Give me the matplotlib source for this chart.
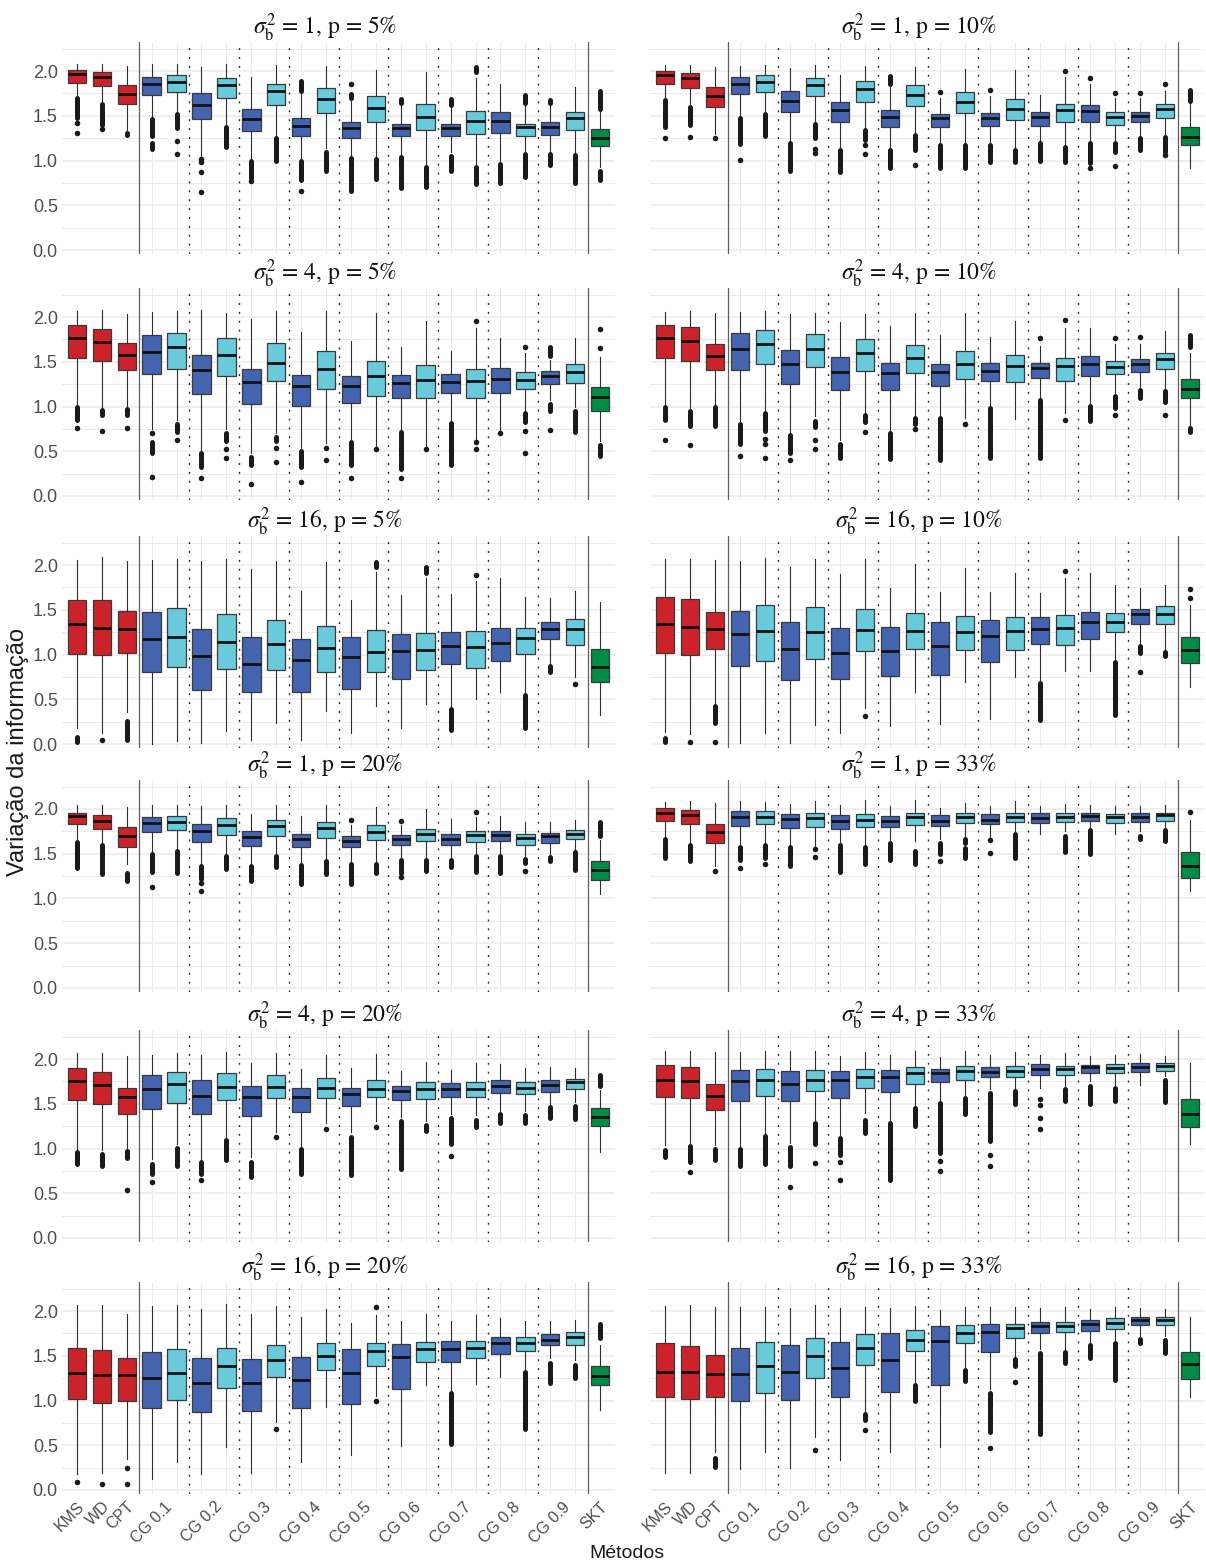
import numpy as np
import matplotlib.pyplot as plt

plt.rcParams['mathtext.fontset'] = 'stix'
plt.rcParams['font.family'] = ['Liberation Sans', 'DejaVu Sans']

# x categories: three reference methods, nine CG levels (two variants each), SKT
TICK_LABELS = ['KMS', 'WD', 'CPT'] + ['CG 0.%d' % k for k in range(1, 10)] + ['SKT']
GROUP = ['ref'] * 3 + ['cg_a', 'cg_b'] * 9 + ['skt']
COLORS = {'ref': '#CC2229', 'cg_a': '#4464AF', 'cg_b': '#68CADB', 'skt': '#008C45'}

# panel order: row by row, left then right
SIGMA2 = [1, 1, 4, 4, 16, 16, 1, 1, 4, 4, 16, 16]
PCT = [5, 10, 5, 10, 5, 10, 20, 33, 20, 33, 20, 33]

WHIS_LO = [
    [1.70, 1.66, 1.34, 1.47, 1.53, 1.05, 1.38, 1.00, 1.27, 1.00, 1.14, 1.04, 1.04, 1.06, 0.95, 1.10, 0.95, 0.99, 1.10, 1.10, 1.08, 0.93],
    [1.69, 1.62, 1.30, 1.49, 1.53, 1.23, 1.43, 1.15, 1.36, 1.14, 1.30, 1.19, 1.19, 1.19, 1.14, 1.21, 1.17, 1.21, 1.23, 1.27, 1.28, 0.92],
    [1.03, 1.00, 1.01, 0.75, 0.85, 0.51, 0.75, 0.48, 0.70, 0.53, 0.59, 0.64, 0.55, 0.75, 0.55, 0.85, 0.62, 0.72, 0.94, 1.07, 1.00, 0.62],
    [1.02, 0.98, 1.02, 0.83, 0.96, 0.70, 0.89, 0.63, 0.93, 0.72, 0.89, 0.89, 0.87, 1.00, 0.86, 1.09, 0.93, 1.04, 1.15, 1.21, 1.19, 0.79],
    [0.18, 0.12, 0.36, 0.00, 0.03, 0.01, 0.14, 0.05, 0.23, 0.05, 0.37, 0.12, 0.42, 0.18, 0.45, 0.42, 0.50, 0.58, 0.58, 0.90, 0.75, 0.32],
    [0.13, 0.11, 0.45, 0.01, 0.12, 0.01, 0.21, 0.12, 0.40, 0.20, 0.58, 0.22, 0.69, 0.28, 0.75, 0.72, 0.82, 0.82, 0.94, 1.11, 1.05, 0.64],
    [1.65, 1.61, 1.39, 1.52, 1.55, 1.38, 1.49, 1.38, 1.49, 1.39, 1.44, 1.41, 1.41, 1.45, 1.45, 1.45, 1.49, 1.50, 1.45, 1.49, 1.54, 1.05],
    [1.69, 1.62, 1.36, 1.61, 1.62, 1.59, 1.59, 1.63, 1.60, 1.65, 1.64, 1.67, 1.69, 1.69, 1.75, 1.72, 1.75, 1.79, 1.72, 1.75, 1.80, 1.08],
    [1.00, 0.98, 1.01, 0.88, 1.05, 0.88, 1.13, 0.90, 1.18, 1.03, 1.28, 1.18, 1.31, 1.35, 1.31, 1.39, 1.37, 1.42, 1.42, 1.50, 1.52, 0.96],
    [1.04, 1.06, 1.04, 1.02, 1.17, 1.06, 1.32, 1.15, 1.40, 1.30, 1.49, 1.53, 1.58, 1.66, 1.66, 1.68, 1.70, 1.75, 1.71, 1.71, 1.81, 1.05],
    [0.18, 0.19, 0.35, 0.12, 0.31, 0.18, 0.48, 0.19, 0.76, 0.31, 0.93, 0.39, 1.05, 0.49, 1.17, 1.12, 1.18, 1.26, 1.35, 1.47, 1.45, 0.89],
    [0.19, 0.19, 0.42, 0.23, 0.43, 0.25, 0.59, 0.33, 0.88, 0.43, 1.20, 0.48, 1.37, 1.13, 1.48, 1.57, 1.57, 1.65, 1.68, 1.72, 1.72, 1.04],
]
Q1 = [
    [1.87, 1.83, 1.63, 1.73, 1.77, 1.46, 1.70, 1.33, 1.62, 1.27, 1.53, 1.25, 1.43, 1.27, 1.34, 1.27, 1.30, 1.31, 1.27, 1.28, 1.34, 1.16],
    [1.86, 1.81, 1.60, 1.74, 1.77, 1.54, 1.72, 1.43, 1.65, 1.37, 1.61, 1.37, 1.53, 1.39, 1.45, 1.39, 1.43, 1.43, 1.40, 1.43, 1.48, 1.17],
    [1.54, 1.51, 1.41, 1.36, 1.42, 1.14, 1.34, 1.03, 1.28, 1.01, 1.20, 1.04, 1.12, 1.10, 1.10, 1.15, 1.09, 1.15, 1.19, 1.25, 1.26, 0.95],
    [1.54, 1.51, 1.41, 1.41, 1.47, 1.25, 1.44, 1.18, 1.40, 1.18, 1.37, 1.23, 1.31, 1.29, 1.27, 1.32, 1.29, 1.34, 1.36, 1.39, 1.42, 1.09],
    [1.01, 0.99, 1.02, 0.80, 0.86, 0.60, 0.84, 0.58, 0.83, 0.58, 0.80, 0.62, 0.80, 0.73, 0.83, 0.89, 0.85, 0.93, 1.01, 1.17, 1.11, 0.69],
    [1.02, 1.00, 1.06, 0.87, 0.93, 0.71, 0.95, 0.73, 1.04, 0.76, 1.06, 0.77, 1.05, 0.92, 1.05, 1.12, 1.11, 1.17, 1.25, 1.34, 1.34, 0.91],
    [1.83, 1.78, 1.58, 1.74, 1.76, 1.63, 1.71, 1.59, 1.70, 1.58, 1.68, 1.57, 1.65, 1.60, 1.64, 1.60, 1.63, 1.64, 1.60, 1.62, 1.66, 1.21],
    [1.87, 1.83, 1.62, 1.81, 1.83, 1.79, 1.80, 1.78, 1.80, 1.80, 1.82, 1.81, 1.84, 1.83, 1.85, 1.84, 1.85, 1.87, 1.84, 1.85, 1.87, 1.23],
    [1.54, 1.50, 1.39, 1.44, 1.51, 1.38, 1.54, 1.36, 1.56, 1.41, 1.56, 1.47, 1.57, 1.54, 1.55, 1.58, 1.58, 1.62, 1.61, 1.63, 1.66, 1.25],
    [1.57, 1.56, 1.43, 1.53, 1.59, 1.53, 1.64, 1.56, 1.68, 1.63, 1.72, 1.74, 1.77, 1.80, 1.80, 1.82, 1.82, 1.84, 1.84, 1.85, 1.87, 1.24],
    [1.02, 0.97, 0.99, 0.92, 1.01, 0.87, 1.14, 0.88, 1.26, 0.92, 1.34, 0.96, 1.39, 1.13, 1.43, 1.43, 1.47, 1.52, 1.55, 1.62, 1.62, 1.17],
    [1.04, 1.02, 1.04, 1.00, 1.08, 1.01, 1.25, 1.04, 1.40, 1.09, 1.55, 1.17, 1.64, 1.54, 1.70, 1.75, 1.76, 1.78, 1.80, 1.84, 1.84, 1.24],
]
MED = [
    [1.97, 1.93, 1.74, 1.86, 1.88, 1.62, 1.84, 1.46, 1.78, 1.39, 1.69, 1.36, 1.59, 1.36, 1.49, 1.36, 1.44, 1.44, 1.37, 1.37, 1.47, 1.25],
    [1.96, 1.92, 1.72, 1.86, 1.88, 1.67, 1.84, 1.56, 1.80, 1.49, 1.73, 1.47, 1.65, 1.47, 1.57, 1.49, 1.56, 1.55, 1.49, 1.50, 1.57, 1.26],
    [1.76, 1.72, 1.57, 1.61, 1.67, 1.41, 1.58, 1.27, 1.49, 1.23, 1.42, 1.23, 1.34, 1.26, 1.30, 1.27, 1.28, 1.31, 1.30, 1.34, 1.38, 1.11],
    [1.76, 1.73, 1.56, 1.64, 1.70, 1.48, 1.64, 1.38, 1.60, 1.37, 1.54, 1.38, 1.48, 1.40, 1.45, 1.43, 1.45, 1.47, 1.44, 1.48, 1.53, 1.19],
    [1.34, 1.30, 1.28, 1.17, 1.20, 0.98, 1.14, 0.89, 1.12, 0.94, 1.07, 0.97, 1.03, 1.04, 1.05, 1.09, 1.08, 1.13, 1.18, 1.28, 1.28, 0.86],
    [1.34, 1.31, 1.29, 1.23, 1.26, 1.06, 1.25, 1.02, 1.27, 1.04, 1.26, 1.10, 1.25, 1.21, 1.26, 1.28, 1.30, 1.36, 1.36, 1.45, 1.45, 1.05],
    [1.92, 1.87, 1.70, 1.84, 1.86, 1.75, 1.82, 1.69, 1.81, 1.66, 1.79, 1.64, 1.74, 1.66, 1.72, 1.67, 1.71, 1.71, 1.68, 1.70, 1.72, 1.32],
    [1.96, 1.93, 1.74, 1.91, 1.91, 1.89, 1.90, 1.87, 1.88, 1.87, 1.91, 1.87, 1.91, 1.88, 1.91, 1.90, 1.91, 1.92, 1.91, 1.91, 1.93, 1.36],
    [1.75, 1.71, 1.57, 1.67, 1.72, 1.59, 1.69, 1.57, 1.69, 1.58, 1.68, 1.61, 1.66, 1.64, 1.66, 1.67, 1.67, 1.70, 1.68, 1.71, 1.74, 1.35],
    [1.77, 1.75, 1.59, 1.75, 1.77, 1.72, 1.77, 1.76, 1.80, 1.80, 1.84, 1.84, 1.87, 1.86, 1.87, 1.89, 1.89, 1.91, 1.90, 1.91, 1.92, 1.39],
    [1.31, 1.29, 1.28, 1.25, 1.31, 1.19, 1.38, 1.19, 1.45, 1.23, 1.50, 1.31, 1.55, 1.49, 1.57, 1.58, 1.59, 1.64, 1.64, 1.68, 1.71, 1.27],
    [1.32, 1.32, 1.30, 1.30, 1.38, 1.32, 1.50, 1.36, 1.59, 1.45, 1.68, 1.66, 1.75, 1.77, 1.81, 1.83, 1.83, 1.86, 1.87, 1.90, 1.90, 1.41],
]
Q3 = [
    [2.01, 1.99, 1.84, 1.93, 1.96, 1.75, 1.92, 1.58, 1.86, 1.47, 1.81, 1.43, 1.72, 1.41, 1.63, 1.41, 1.55, 1.54, 1.41, 1.43, 1.54, 1.35],
    [2.00, 1.98, 1.82, 1.93, 1.96, 1.78, 1.92, 1.65, 1.89, 1.56, 1.84, 1.52, 1.76, 1.53, 1.69, 1.54, 1.63, 1.62, 1.54, 1.54, 1.63, 1.37],
    [1.91, 1.87, 1.71, 1.80, 1.82, 1.57, 1.77, 1.42, 1.71, 1.35, 1.62, 1.34, 1.51, 1.35, 1.46, 1.36, 1.42, 1.43, 1.38, 1.40, 1.48, 1.22],
    [1.91, 1.89, 1.70, 1.82, 1.86, 1.63, 1.81, 1.55, 1.75, 1.49, 1.69, 1.47, 1.62, 1.49, 1.58, 1.49, 1.54, 1.56, 1.51, 1.53, 1.60, 1.31],
    [1.61, 1.61, 1.49, 1.47, 1.52, 1.28, 1.45, 1.20, 1.39, 1.17, 1.32, 1.20, 1.27, 1.23, 1.24, 1.25, 1.26, 1.30, 1.30, 1.36, 1.40, 1.06],
    [1.64, 1.62, 1.48, 1.49, 1.55, 1.36, 1.53, 1.30, 1.51, 1.31, 1.46, 1.36, 1.43, 1.38, 1.42, 1.42, 1.44, 1.47, 1.46, 1.51, 1.54, 1.20],
    [1.96, 1.93, 1.80, 1.91, 1.92, 1.83, 1.90, 1.75, 1.88, 1.72, 1.86, 1.70, 1.82, 1.71, 1.78, 1.72, 1.75, 1.75, 1.72, 1.73, 1.77, 1.42],
    [2.01, 1.99, 1.83, 1.98, 1.98, 1.94, 1.96, 1.93, 1.94, 1.92, 1.96, 1.93, 1.96, 1.94, 1.95, 1.95, 1.95, 1.95, 1.94, 1.95, 1.96, 1.52],
    [1.90, 1.86, 1.68, 1.82, 1.85, 1.76, 1.84, 1.70, 1.82, 1.68, 1.79, 1.68, 1.77, 1.70, 1.74, 1.73, 1.74, 1.76, 1.74, 1.76, 1.78, 1.45],
    [1.93, 1.91, 1.72, 1.88, 1.89, 1.87, 1.88, 1.87, 1.89, 1.88, 1.91, 1.89, 1.92, 1.91, 1.92, 1.94, 1.92, 1.93, 1.94, 1.95, 1.95, 1.55],
    [1.59, 1.56, 1.47, 1.54, 1.58, 1.48, 1.59, 1.46, 1.62, 1.49, 1.64, 1.58, 1.64, 1.63, 1.65, 1.66, 1.67, 1.71, 1.71, 1.74, 1.76, 1.38],
    [1.64, 1.61, 1.51, 1.59, 1.65, 1.62, 1.70, 1.65, 1.74, 1.75, 1.79, 1.83, 1.84, 1.85, 1.86, 1.88, 1.88, 1.90, 1.92, 1.93, 1.93, 1.54],
]
WHIS_HI = [
    [2.08, 2.08, 2.06, 2.08, 2.08, 2.05, 2.08, 1.93, 2.07, 1.77, 2.06, 1.66, 2.01, 1.62, 1.99, 1.60, 1.92, 1.86, 1.62, 1.62, 1.82, 1.55],
    [2.07, 2.07, 2.04, 2.06, 2.07, 2.03, 2.07, 1.95, 2.06, 1.84, 2.04, 1.70, 2.02, 1.72, 2.01, 1.73, 1.93, 1.85, 1.70, 1.70, 1.78, 1.64],
    [2.07, 2.08, 2.03, 2.06, 2.07, 2.08, 2.04, 1.98, 2.07, 1.83, 2.07, 1.73, 2.04, 1.67, 1.96, 1.62, 1.88, 1.77, 1.60, 1.52, 1.76, 1.55],
    [2.06, 2.07, 2.05, 2.06, 2.07, 2.03, 2.04, 1.94, 2.03, 1.90, 2.04, 1.80, 2.05, 1.78, 1.95, 1.68, 1.88, 1.88, 1.70, 1.70, 1.84, 1.60],
    [2.06, 2.09, 2.04, 2.06, 2.07, 2.04, 2.07, 1.96, 2.05, 1.71, 2.03, 1.61, 1.92, 1.67, 1.85, 1.68, 1.82, 1.85, 1.64, 1.63, 1.71, 1.59],
    [2.07, 2.07, 2.06, 2.05, 2.08, 1.98, 2.07, 1.90, 2.07, 1.74, 2.01, 1.70, 1.97, 1.70, 1.91, 1.69, 1.85, 1.91, 1.78, 1.74, 1.78, 1.55],
    [2.04, 2.05, 2.02, 2.04, 2.05, 2.03, 2.04, 1.94, 2.04, 1.92, 2.04, 1.82, 2.02, 1.82, 2.00, 1.89, 1.91, 1.92, 1.86, 1.85, 1.88, 1.65],
    [2.08, 2.09, 2.07, 2.09, 2.08, 2.06, 2.09, 2.05, 2.10, 2.03, 2.10, 2.01, 2.07, 2.03, 2.09, 2.03, 2.06, 2.04, 2.03, 2.03, 2.04, 1.88],
    [2.07, 2.07, 2.03, 2.04, 2.07, 2.04, 2.08, 1.96, 2.07, 1.89, 2.04, 1.90, 2.06, 1.87, 1.97, 1.88, 1.96, 1.94, 1.90, 1.91, 1.90, 1.65],
    [2.09, 2.09, 2.08, 2.08, 2.09, 2.09, 2.09, 2.03, 2.08, 2.04, 2.09, 2.02, 2.09, 2.04, 2.08, 2.05, 2.07, 2.03, 2.04, 2.06, 2.03, 1.96],
    [2.07, 2.07, 1.97, 2.06, 2.07, 2.02, 2.08, 1.97, 2.06, 1.93, 2.02, 1.87, 1.96, 1.89, 1.97, 1.89, 1.96, 1.92, 1.89, 1.89, 1.90, 1.62],
    [2.06, 2.07, 2.05, 2.05, 2.05, 2.03, 2.07, 2.03, 2.04, 2.03, 2.06, 2.01, 2.05, 2.04, 2.04, 2.03, 2.04, 2.02, 2.04, 2.03, 2.02, 1.93],
]

# outliers per box index: single values, or (low, high) for a packed run of points
OUTLIERS = [
    {0: [(1.47, 1.70), 1.42, 1.31], 1: [(1.40, 1.63), 1.35], 2: [(1.28, 1.31)],
     3: [(1.27, 1.46), (1.13, 1.19)], 4: [(1.36, 1.52), 1.22, 1.07], 5: [1.02, 0.98, 0.87, 0.65],
     6: [(1.15, 1.37)], 7: [(0.80, 0.99), 0.77], 8: [(1.00, 1.25)], 9: [(1.78, 1.89), (0.78, 0.99), 0.66],
     10: [(0.88, 1.10)], 11: [1.86, (1.70, 1.74), (0.66, 1.03)], 12: [(0.79, 1.02)],
     13: [(1.64, 1.69), (0.69, 1.04)], 14: [(0.70, 0.93)], 15: [(1.62, 1.69), (0.88, 1.05)],
     16: [(1.99, 2.04), (0.74, 0.93)], 17: [(0.75, 0.96)], 18: [(1.64, 1.73), (0.82, 1.07)],
     19: [(1.64, 1.68), (0.95, 1.07)], 20: [(0.75, 1.06)], 21: [(1.58, 1.78), (0.78, 0.88)]},
    {0: [(1.37, 1.68), 1.25], 1: [(1.40, 1.60), 1.26], 2: [1.25], 3: [(1.18, 1.47), 1.01],
     4: [(1.27, 1.52)], 5: [(0.88, 1.20)], 6: [(1.25, 1.41), 1.13, 1.08], 7: [(0.87, 1.12)],
     8: [(1.23, 1.34), 1.17, 1.07], 9: [(1.86, 1.94), (0.92, 1.12)], 10: [(1.12, 1.28), 0.95],
     11: [1.76, (0.92, 1.17)], 12: [(0.92, 1.17)], 13: [1.79, (0.98, 1.17)], 14: [(0.98, 1.12)],
     15: [(1.00, 1.19)], 16: [2.00, (0.98, 1.15)], 17: [1.92, (0.97, 1.19), 0.92],
     18: [1.75, (1.10, 1.20), 0.94], 19: [1.75, (1.12, 1.25)], 20: [1.86, (1.10, 1.26), 1.06],
     21: [(1.66, 1.79)]},
    {0: [(0.85, 1.00), 0.76], 1: [(0.90, 0.96), 0.73], 2: [(0.91, 0.97), 0.76],
     3: [0.70, (0.48, 0.60), 0.21], 4: [(0.72, 0.80), 0.63], 5: [(0.32, 0.48), 0.20],
     6: [(0.62, 0.70), 0.53, 0.43], 7: [(0.35, 0.44), 0.13], 8: [(0.62, 0.66), 0.54, 0.38],
     9: [(0.32, 0.50), 0.16], 10: [0.54, 0.40], 11: [(0.35, 0.60), 0.20], 12: [0.52],
     13: [(0.30, 0.72), 0.20], 14: [0.52], 15: [(0.35, 0.82)], 16: [1.95, 0.60, 0.52], 17: [0.70],
     18: [1.67, (0.83, 0.93), 0.73, 0.48], 19: [(1.56, 1.67), (0.95, 1.03), 0.74],
     20: [(0.72, 0.95)], 21: [1.87, 1.65, (0.45, 0.57)]},
    {0: [(0.85, 1.00), 0.63], 1: [(0.78, 0.95), 0.57], 2: [(0.78, 0.99)], 3: [(0.58, 0.80), 0.45],
     4: [(0.73, 0.93), 0.64, 0.58, 0.43], 5: [(0.48, 0.68), 0.40], 6: [(0.77, 0.84), 0.63, 0.52],
     7: [(0.42, 0.58)], 8: [(0.83, 0.90), 0.71], 9: [(0.41, 0.70)], 10: [(0.81, 0.87), 0.75],
     11: [(0.40, 0.87)], 12: [0.80], 13: [(0.42, 0.98)], 15: [1.76, (0.43, 1.07)], 16: [1.97, 0.85],
     17: [(0.84, 1.01)], 18: [1.77, (0.98, 1.12), 0.90], 19: [1.78, (1.10, 1.18)],
     20: [(1.05, 1.17), 0.91], 21: [(1.66, 1.80), (0.71, 0.76)]},
    {0: [(0.02, 0.08)], 1: [0.05], 2: [(0.05, 0.26)], 12: [(1.98, 2.03)], 14: [(1.91, 1.98)],
     15: [(0.16, 0.39)], 16: [1.89], 18: [(0.18, 0.55)], 19: [(0.80, 0.87)], 20: [0.67]},
    {0: [(0.02, 0.07)], 1: [0.02], 2: [(0.23, 0.42), 0.02], 8: [0.31], 15: [(0.27, 0.68)],
     16: [1.93], 18: [(0.32, 0.92)], 19: [(1.02, 1.10), 0.80], 20: [(0.98, 1.03)], 21: [1.73, 1.63]},
    {0: [(1.34, 1.63)], 1: [(1.27, 1.60)], 2: [(1.20, 1.28)], 3: [(1.30, 1.50), 1.13],
     4: [(1.29, 1.53)], 5: [(1.22, 1.36), 1.17, 1.08], 6: [(1.33, 1.48)], 7: [(1.19, 1.36)],
     8: [(1.35, 1.48)], 9: [(1.16, 1.37)], 10: [(1.27, 1.42)], 11: [1.88, (1.16, 1.39)],
     12: [(1.28, 1.39)], 13: [1.87, (1.29, 1.43), 1.24], 14: [(1.31, 1.43)], 15: [(1.35, 1.43)],
     16: [1.97, (1.30, 1.47)], 17: [(1.29, 1.48)], 18: [(1.40, 1.44), 1.31], 19: [(1.42, 1.46)],
     20: [(1.32, 1.52)], 21: [(1.70, 1.86)]},
    {0: [(1.45, 1.67)], 1: [(1.42, 1.60)], 2: [1.31], 3: [(1.43, 1.58), 1.34], 4: [(1.45, 1.60), 1.39],
     5: [(1.36, 1.57)], 6: [1.55, 1.46], 7: [(1.30, 1.60)], 8: [(1.38, 1.57)], 9: [(1.43, 1.62)],
     10: [(1.38, 1.53)], 11: [(1.50, 1.62), 1.42], 12: [(1.62, 1.67), (1.45, 1.56)], 13: [1.65, 1.51],
     14: [(1.45, 1.72)], 16: [(1.52, 1.70)], 17: [(1.50, 1.77)], 19: [(1.67, 1.70)],
     20: [(1.64, 1.77)], 21: [1.97]},
    {0: [(0.83, 0.96)], 1: [(0.80, 0.94)], 2: [(0.89, 0.97), 0.54], 3: [(0.72, 0.83), 0.63],
     4: [(0.80, 1.01)], 5: [(0.71, 0.85), 0.65], 6: [(0.87, 1.10)], 7: [(0.68, 0.85)], 8: [1.13],
     9: [(0.72, 0.99)], 10: [1.22], 11: [(0.70, 1.13)], 12: [1.24], 13: [(0.77, 1.31)],
     14: [(1.20, 1.26)], 15: [(1.05, 1.34), 0.92], 16: [(1.24, 1.32)], 17: [(1.29, 1.38)],
     18: [(1.28, 1.37)], 19: [(1.34, 1.46)], 20: [(1.33, 1.47)], 21: [(1.70, 1.82)]},
    {0: [(0.90, 0.98)], 1: [(0.85, 1.03), 0.74], 2: [(0.87, 1.00)], 3: [(0.80, 0.99)],
     4: [(0.83, 1.14)], 5: [(0.80, 1.02), 0.57], 6: [(1.05, 1.29), 0.84], 7: [(0.93, 1.12), 0.85, 0.65],
     8: [(1.17, 1.32)], 9: [(0.65, 1.28)], 10: [(1.25, 1.45)], 11: [(0.95, 1.51), 0.86, 0.75],
     12: [(1.38, 1.56)], 13: [(1.08, 1.62), 0.93, 0.81], 14: [(1.50, 1.64)],
     15: [1.55, 1.49, 1.34, 1.22], 16: [(1.53, 1.66)], 17: [(1.50, 1.70)], 18: [(1.53, 1.68)],
     20: [(1.52, 1.77)]},
    {0: [0.09], 1: [0.07], 2: [0.25, 0.07], 8: [0.68], 12: [2.04, 0.99], 15: [(0.51, 1.08)],
     18: [(0.68, 1.32)], 19: [(1.20, 1.42)], 20: [(1.25, 1.40)], 21: [(1.70, 1.85)]},
    {2: [(0.26, 0.36)], 6: [0.45], 8: [(0.78, 0.85), 0.67], 10: [(1.00, 1.17)], 12: [(1.22, 1.34)],
     13: [(0.65, 1.08), 0.47], 14: [(1.39, 1.46), 1.21], 15: [(0.63, 1.53)], 16: [(1.42, 1.54)],
     17: [(1.48, 1.62)], 18: [(1.23, 1.64)], 19: [(1.64, 1.69)], 20: [(1.53, 1.68)]},
]

W, H = 1206, 1565
ZERO_PX = [250, 496, 744, 988, 1238, 1490]   # pixel row of y = 0 in each panel row
UNIT = 89.5                                  # pixels per 1.0 on the y axis
YMIN, YMAX = -0.04, 2.32
COL_X = [(62, 553), (650, 555)]
TITLE_X = [325, 919]

GRID = '#EBEBEB'
DOT = '#1A1A1A'
TXT = '#4D4D4D'

fig = plt.figure(figsize=(W / 100, H / 100), dpi=100)
positions = list(range(1, 23))
label_pos = [1, 2, 3] + [4.5 + 2 * k for k in range(9)] + [22]

for i in range(12):
    row, col = divmod(i, 2)
    z = ZERO_PX[row]
    bot = z - YMIN * UNIT
    top = z - YMAX * UNIT
    x0, w = COL_X[col]
    ax = fig.add_axes([x0 / W, 1 - bot / H, w / W, (bot - top) / H])

    stats = [dict(whislo=WHIS_LO[i][j], q1=Q1[i][j], med=MED[i][j],
                  q3=Q3[i][j], whishi=WHIS_HI[i][j]) for j in range(22)]
    bp = ax.bxp(stats, positions=positions, widths=0.74, patch_artist=True,
                showfliers=False, showcaps=False,
                boxprops=dict(edgecolor='#3A3A3A', linewidth=0.9),
                medianprops=dict(color='#111111', linewidth=2.0),
                whiskerprops=dict(color='#2E2E2E', linewidth=0.8))
    for patch, g in zip(bp['boxes'], GROUP):
        patch.set_facecolor(COLORS[g])
    for art in bp['boxes'] + bp['medians'] + bp['whiskers']:
        art.set_zorder(3)

    for j, items in OUTLIERS[i].items():
        x = j + 1
        for it in items:
            if isinstance(it, tuple):
                ax.plot([x, x], list(it), color=DOT, lw=3.6,
                        solid_capstyle='round', zorder=4)
            else:
                ax.plot(x, it, 'o', color=DOT, ms=4.0, mew=0, zorder=4)

    # separators between method families and between CG levels
    for xs in (3.5, 21.5):
        ax.axvline(xs, color='#5E5E5E', lw=0.9, zorder=2)
    for k in range(8):
        ax.axvline(5.5 + 2 * k, color='#2A2A2A', lw=1.0,
                   linestyle=(0, (1.4, 5.0)), zorder=2)

    ax.set_xlim(0.4, 22.6)
    ax.set_ylim(YMIN, YMAX)
    ax.set_yticks([0, 0.5, 1.0, 1.5, 2.0])
    ax.set_yticks(np.arange(0.25, 2.3, 0.5), minor=True)
    ax.set_xticks(label_pos)
    ax.set_xticks(positions, minor=True)
    ax.yaxis.grid(True, which='major', color=GRID, lw=1.1)
    ax.yaxis.grid(True, which='minor', color=GRID, lw=0.7)
    ax.xaxis.grid(True, which='minor', color=GRID, lw=0.7)
    ax.xaxis.grid(False, which='major')
    ax.set_axisbelow(True)
    for s in ax.spines.values():
        s.set_visible(False)
    ax.tick_params(which='both', length=0)
    ax.tick_params(axis='y', labelsize=13, labelcolor=TXT, pad=3)
    ax.set_yticklabels(['0.0', '0.5', '1.0', '1.5', '2.0'])
    if col == 1:
        ax.tick_params(axis='y', labelleft=False)
    if row == 5:
        ax.set_xticklabels(TICK_LABELS, rotation=45, ha='right',
                           rotation_mode='anchor', fontsize=11.5, color=TXT)
        ax.tick_params(axis='x', pad=4)
    else:
        ax.tick_params(axis='x', labelbottom=False)

    title = r'$\sigma_{\mathrm{b}}^{2}$ = %d, p = %d%%' % (SIGMA2[i], PCT[i])
    fig.text(TITLE_X[col] / W, 1 - (z - 222) / H, title, ha='center', va='center',
             fontsize=17, family='STIXGeneral', color='#111111')

fig.text(18 / W, 1 - 752 / H, 'Variação da informação', rotation=90,
         ha='center', va='center', fontsize=17, color='#1A1A1A')
fig.text(627 / W, 1 - 1553 / H, 'Métodos', ha='center', va='center',
         fontsize=14, color='#1A1A1A')

fig.savefig('out.png', dpi=100, facecolor='white')
